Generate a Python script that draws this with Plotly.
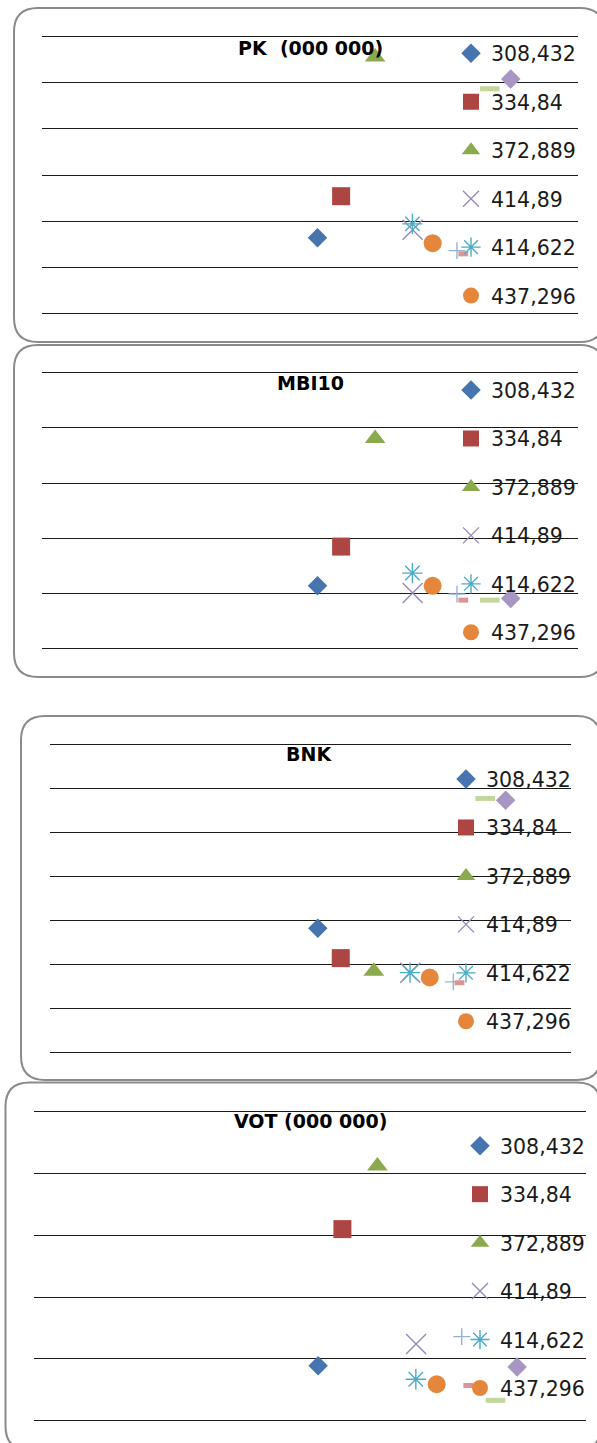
import plotly.graph_objects as go

W, H = 597, 1443

# series x values (shared by all four panels)
x_vals = [308.432, 334.84, 372.889, 414.89, 414.622, 437.296, 464.5, 471.6, 501.2, 524.7]
series_names = ["308,432", "334,84", "372,889", "414,89", "414,622", "437,296", None, None, None, None]

# y values per panel
pk_y = [1.64, 2.54, 5.56, 1.81, 1.94, 1.52, 1.36, 1.29, 4.87, 5.08]
mbi_y = [1.14, 1.85, 3.81, 1.01, 1.37, 1.14, 0.99, 0.88, 0.88, 0.91]
bnk_y = [2.82, 2.14, 1.84, 1.81, 1.81, 1.70, 1.60, 1.58, 5.77, 5.73]
vot_y = [0.89, 3.10, 4.12, 1.24, 0.67, 0.59, 1.36, 0.57, 0.33, 0.87]

titles = ["PK\u00a0 (000\u00a0000)", "MBI10", "BNK", "VOT (000\u00a0000)"]
panel_y = [pk_y, mbi_y, bnk_y, vot_y]
y_max = [6, 5, 7, 5]

# marker styles: symbol, size, colour, stroke width
styles = [
    ("diamond", 15, "#4674AE", 0),
    ("square", 18, "#AD4542", 0),
    ("triangle-up", 18, "#8BAA4E", 0),
    ("x-thin-open", 20, "#9A88BA", 1.4),
    ("asterisk-open", 17, "#4BACC6", 1.4),
    ("circle", 18, "#E4873C", 0),
    ("cross-thin-open", 12, "#95B3D7", 1.4),
    ("line-ew-open", 7, "#D99694", 5),
    ("line-ew-open", 14, "#C3D69B", 5),
    ("diamond", 15, "#A896C2", 0),
]

# layout boxes in pixels: plot area (x0, x1, y_top, y_bottom), frame, title centre, legend anchor
plot_px = [(42, 578, 36.7, 313.3), (42, 578, 372.7, 648.7), (50, 571, 744.3, 1052.3), (34.3, 586.4, 1111.7, 1420.7)]
frame_px = [(14, 8, 604, 342), (14, 345, 604, 677), (21, 716, 601, 1080), (5.5, 1082.5, 601, 1450)]
title_px = [(310.5, 47.5), (310, 382.5), (309, 754), (310, 1120.7)]
legend_px = [(491, 53.3), (491, 390), (486, 779), (500, 1145.7)]
PAD = 4  # extra room above the top gridline so it is not clipped

fig = go.Figure()

for p in range(4):
    suffix = "" if p == 0 else str(p + 1)
    leg = "legend" + suffix
    for i, (sym, size, col, lw) in enumerate(styles):
        fig.add_trace(go.Scatter(
            x=[x_vals[i]], y=[panel_y[p][i]],
            mode="markers",
            name=series_names[i] if series_names[i] else "",
            showlegend=series_names[i] is not None,
            legend=leg,
            legendgroup=f"p{p}s{i}",
            marker=dict(symbol=sym, size=size, color=col,
                        line=dict(color=col, width=lw)),
            xaxis="x" + suffix, yaxis="y" + suffix,
            cliponaxis=False,
        ))

    x0, x1, yt, yb = plot_px[p]
    ppu = (yb - yt) / y_max[p]
    fig.update_layout(**{
        "xaxis" + suffix: dict(domain=[x0 / W, x1 / W], range=[0, 600],
                               showgrid=False, zeroline=False, showline=False,
                               showticklabels=False, ticks="", fixedrange=True,
                               anchor="y" + suffix),
        "yaxis" + suffix: dict(domain=[1 - yb / H, 1 - (yt - PAD) / H],
                               range=[0, y_max[p] + PAD / ppu],
                               tickvals=list(range(y_max[p] + 1)),
                               showgrid=True, gridcolor="#1a1a1a", gridwidth=1.4,
                               zeroline=True, zerolinecolor="#1a1a1a", zerolinewidth=1.4,
                               showline=False, showticklabels=False, ticks="",
                               fixedrange=True, anchor="x" + suffix),
        leg: dict(x=(legend_px[p][0] - 40) / W, xanchor="left",
                  y=1 - (legend_px[p][1] - 19.8) / H, yanchor="top",
                  bgcolor="rgba(0,0,0,0)", borderwidth=0,
                  font=dict(family="DejaVu Sans", size=20.5, color="#1a1a1a"),
                  tracegroupgap=18.8, itemsizing="trace"),
    })

    tx, ty = title_px[p]
    fig.add_annotation(x=tx / W, y=1 - ty / H, xref="paper", yref="paper",
                       text="<b>" + titles[p] + "</b>", showarrow=False,
                       xanchor="center", yanchor="middle",
                       font=dict(family="DejaVu Sans", size=19, color="#000000"))


def rounded_rect(x0, y0, x1, y1, r):
    def P(px, py):
        return f"{px / W:.5f},{1 - py / H:.5f}"
    return (f"M {P(x0 + r, y0)} L {P(x1 - r, y0)} Q {P(x1, y0)} {P(x1, y0 + r)} "
            f"L {P(x1, y1 - r)} Q {P(x1, y1)} {P(x1 - r, y1)} "
            f"L {P(x0 + r, y1)} Q {P(x0, y1)} {P(x0, y1 - r)} "
            f"L {P(x0, y0 + r)} Q {P(x0, y0)} {P(x0 + r, y0)} Z")


for (fx0, fy0, fx1, fy1) in frame_px:
    fig.add_shape(type="path", path=rounded_rect(fx0, fy0, fx1, fy1, 24),
                  xref="paper", yref="paper", line=dict(color="#8a8a8a", width=2),
                  fillcolor="rgba(0,0,0,0)", layer="below")

fig.update_layout(width=W, height=H, margin=dict(l=0, r=0, t=0, b=0),
                  paper_bgcolor="white", plot_bgcolor="rgba(0,0,0,0)",
                  showlegend=True, hovermode=False)

fig.write_html("out.html", config={"displayModeBar": False})
